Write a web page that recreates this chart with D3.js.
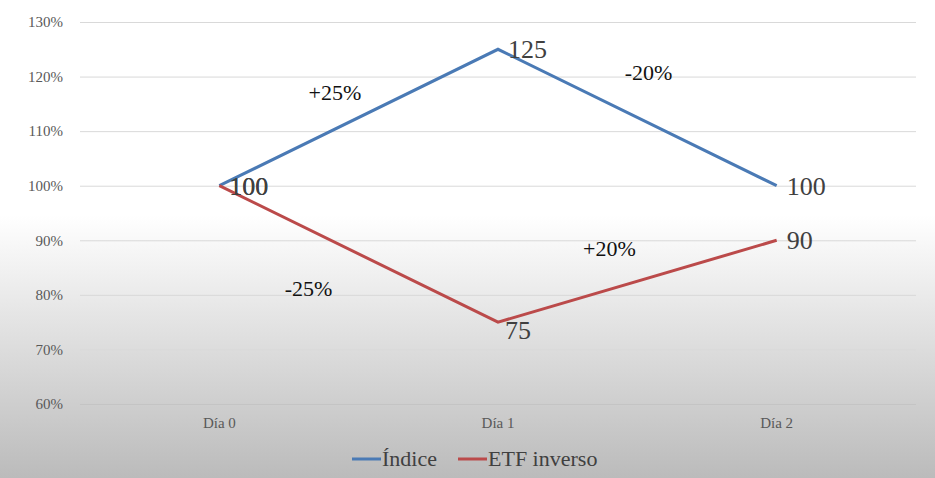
<!DOCTYPE html>
<html>
<head>
<meta charset="utf-8">
<script src="https://cdn.jsdelivr.net/npm/d3@7"></script>
<style>
  body { margin: 0; }
  svg { display: block; }
  svg text { font-family: 'Liberation Serif', 'Times New Roman', serif !important; }
</style>
</head>
<body>
<div id="chart"></div>
<script>
  // Data
  const days = ["Día 0", "Día 1", "Día 2"];
  const indice = [100, 125, 100];
  const etfInverso = [100, 75, 90];
  const yTicks = [60, 70, 80, 90, 100, 110, 120, 130];
  // percent change annotations: position as fractional day index and value
  const changeLabels = ["+25%", "-20%", "-25%", "+20%"];
  const changeX = [0.415, 1.54, 0.32, 1.40];
  const changeY = [117.0, 120.6, 81.1, 88.4];

  const W = 935, H = 478;
  const margin = { top: 22, right: 19, bottom: 74, left: 80 };
  const width = W - margin.left - margin.right;
  const height = H - margin.top - margin.bottom;
  const serif = "'Liberation Serif', serif";

  const root = d3.select("#chart")
    .append("svg")
    .attr("width", W)
    .attr("height", H);

  // Background gradient
  const grad = root.append("defs").append("linearGradient")
    .attr("id", "bg")
    .attr("x1", 0).attr("y1", 0).attr("x2", 0).attr("y2", 1);
  grad.append("stop").attr("offset", "0%").attr("stop-color", "#ffffff");
  grad.append("stop").attr("offset", "45%").attr("stop-color", "#ffffff");
  grad.append("stop").attr("offset", "100%").attr("stop-color", "#bbbbbb");

  root.append("rect")
    .attr("width", W).attr("height", H)
    .attr("fill", "url(#bg)");

  const svg = root.append("g")
    .attr("transform", `translate(${margin.left},${margin.top})`);

  const x = d3.scaleBand()
    .domain(days)
    .range([0, width]);

  const y = d3.scaleLinear()
    .domain([60, 130])
    .range([height, 0]);

  const cx = i => x(days[0]) + x.bandwidth() * (i + 0.5);

  // Y axis with gridlines
  const yAxis = svg.append("g")
    .call(d3.axisLeft(y).tickValues(yTicks).tickSize(-width).tickPadding(17)
      .tickFormat(d => d + "%"));
  yAxis.attr("font-family", null);
  yAxis.select(".domain").remove();
  yAxis.selectAll(".tick line")
    .attr("stroke", d => d === 60 ? "#c4c4c4" : "#d9d9d9");
  yAxis.selectAll(".tick text")
    .attr("fill", "#595959")
    .style("font-size", "15px")
    .style("font-family", serif);

  // X axis labels
  const xAxis = svg.append("g")
    .attr("transform", `translate(0,${height})`)
    .call(d3.axisBottom(x).tickSize(0).tickPadding(13));
  xAxis.attr("font-family", null);
  xAxis.select(".domain").remove();
  xAxis.selectAll(".tick text")
    .attr("fill", "#595959")
    .style("font-size", "15px")
    .style("font-family", serif);

  const series = [
    { name: "Índice", values: indice, color: "#4a7ab5" },
    { name: "ETF inverso", values: etfInverso, color: "#bb4a4a" }
  ];

  const line = d3.line()
    .x((d, i) => cx(i))
    .y(d => y(d));

  series.forEach(function(s) {
    svg.append("path")
      .datum(s.values)
      .attr("fill", "none")
      .attr("stroke", s.color)
      .attr("stroke-width", 3)
      .attr("d", line);
  });

  // Data labels (right of each point)
  series.forEach(function(s) {
    svg.selectAll(null)
      .data(s.values)
      .enter()
      .append("text")
      .attr("x", (d, i) => cx(i) + (d < 80 ? 7 : 10))
      .attr("y", d => y(d) + (d < 80 ? 17 : 9))
      .style("font-size", "26px")
      .style("font-family", serif)
      .attr("fill", "#404040")
      .text(d => d);
  });

  // Percent change annotations
  svg.selectAll(".chg")
    .data(changeLabels)
    .enter()
    .append("text")
    .attr("class", "chg")
    .attr("x", (d, i) => cx(changeX[i]))
    .attr("y", (d, i) => y(changeY[i]) + 7)
    .attr("text-anchor", "middle")
    .style("font-size", "22px")
    .style("font-family", serif)
    .attr("fill", "#111111")
    .text(d => d);

  // Legend
  const legend = root.append("g")
    .attr("transform", "translate(352,459)");
  const legendX = [0, 106];
  series.forEach(function(s, i) {
    legend.append("line")
      .attr("x1", legendX[i]).attr("x2", legendX[i] + 29)
      .attr("y1", 0).attr("y2", 0)
      .attr("stroke", s.color)
      .attr("stroke-width", 3);
    legend.append("text")
      .attr("x", legendX[i] + 30)
      .attr("y", 7)
      .style("font-size", "22px")
      .style("font-family", serif)
      .attr("fill", "#404040")
      .text(s.name);
  });
</script>
</body>
</html>
